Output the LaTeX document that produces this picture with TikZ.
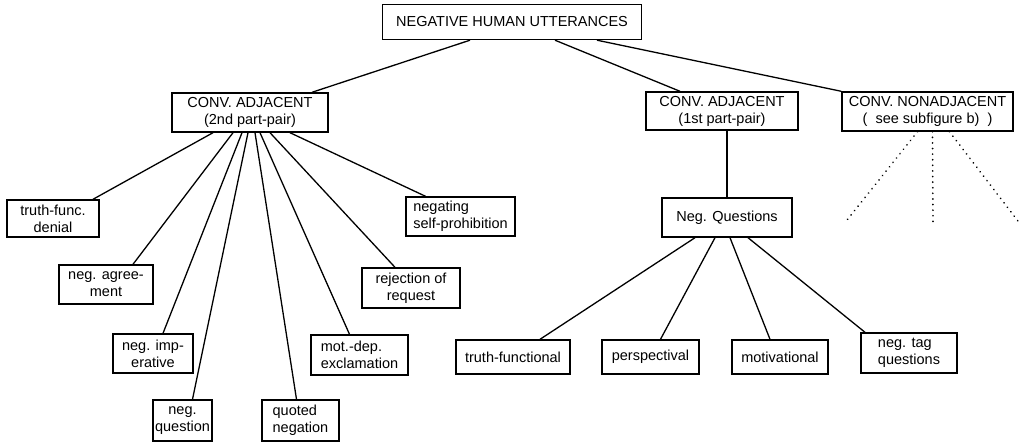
\documentclass[tikz,border=0pt]{standalone}
\usepackage{fontspec}
\setmainfont{Liberation Sans}
\usepackage{tikz}
\usetikzlibrary{calc}

\begin{document}
\begin{tikzpicture}[x=1pt, y=-1pt,
    box/.style={draw, line width=1.4pt, inner sep=2pt, align=center,
        font=\fontsize{14.5}{17}\selectfont},
    branch/.style={line width=1.3pt},
    subtree/.style={line width=1.8pt, line cap=round, dash pattern=on 0.1pt off 5.5pt}]
    \useasboundingbox (0,0) rectangle (1028,444);
    \node[box, minimum width=259pt, minimum height=35pt] (root) at (512,22) {NEGATIVE HUMAN UTTERANCES};
    \node[box, minimum width=156pt, minimum height=39pt] (adj2) at (250,112.5) {CONV. ADJACENT\\(2nd part-pair)};
    \node[box, minimum width=152pt, minimum height=38pt] (adj1) at (722,111) {CONV. ADJACENT\\(1st part-pair)};
    \node[box, minimum width=171pt, minimum height=39pt] (nonadj) at (927.5,111.5) {CONV. NONADJACENT\\(\ \ see subfigure b)\ \ )};

    \node[box, minimum width=92pt, minimum height=37pt] (tfdenial) at (53,218.5) {truth-func.\\denial};
    \node[box, minimum width=94pt, minimum height=39pt] (agree) at (106,284.5) {neg. agree-\\ment};
    \node[box, minimum width=80pt, minimum height=39pt] (imper) at (153,353.5) {neg. imp-\\erative};
    \node[box, minimum width=59pt, minimum height=41pt] (quest) at (182.5,420.5) {neg.\\question};
    \node[box, minimum width=77pt, minimum height=41pt, align=left] (quoted) at (300.5,420.5) {quoted\\negation};
    \node[box, minimum width=97pt, minimum height=40pt, align=left] (motdep) at (359.5,355) {mot.-dep.\\exclamation};
    \node[box, minimum width=98pt, minimum height=40pt] (reject) at (411,288) {rejection of\\request};
    \node[box, minimum width=109pt, minimum height=39pt, align=left] (selfprohib) at (460.5,216.5) {negating\\self-prohibition};

    \node[box, minimum width=130pt, minimum height=39pt] (negq) at (727,217.5) {Neg. Questions};
    \node[box, minimum width=114pt, minimum height=34pt] (truthf) at (513,357) {truth-functional};
    \node[box, minimum width=97pt, minimum height=34pt] (persp) at (650.5,357) {perspectival};
    \node[box, minimum width=96pt, minimum height=34pt] (motiv) at (780,357) {motivational};
    \node[box, minimum width=96pt, minimum height=40pt, align=left] (tagq) at (909,353) {neg. tag\\questions};

    \draw[branch] ([xshift=-42pt]root.south) -- ([xshift=62pt]adj2.north);
    \draw[branch] ([xshift=43pt]root.south) -- ([xshift=-42pt]adj1.north);
    \draw[branch] ([xshift=85pt]root.south) -- (nonadj.north west);

    \draw[branch] ([xshift=-37pt]adj2.south) -- ([xshift=40pt]tfdenial.north);
    \draw[branch] ([xshift=-17pt]adj2.south) -- ([xshift=27pt]agree.north);
    \draw[branch] ([xshift=-8pt]adj2.south) -- ([xshift=10pt]imper.north);
    \draw[branch] ([xshift=-2pt]adj2.south) -- ([xshift=10pt]quest.north);
    \draw[branch] ([xshift=5pt]adj2.south) -- ([xshift=-4pt]quoted.north);
    \draw[branch] ([xshift=10pt]adj2.south) -- ([xshift=-10pt]motdep.north);
    \draw[branch] ([xshift=20pt]adj2.south) -- ([xshift=-16pt]reject.north);
    \draw[branch] ([xshift=40pt]adj2.south) -- ([xshift=-35pt]selfprohib.north);

    \draw[branch] (negq.north |- adj1.south) -- (negq.north);
    \draw[branch] ([xshift=-32pt]negq.south) -- ([xshift=27pt]truthf.north);
    \draw[branch] ([xshift=-12pt]negq.south) -- ([xshift=10pt]persp.north);
    \draw[branch] ([xshift=3pt]negq.south) -- ([xshift=-10pt]motiv.north);
    \draw[branch] ([xshift=21pt]negq.south) -- ([xshift=-44pt]tagq.north);

    \coordinate (dotleft) at (847,220);
    \coordinate (dotmid) at (933,226);
    \coordinate (dotright) at (1021,225);
    \draw[subtree] ([xshift=-10pt]nonadj.south) -- (dotleft);
    \draw[subtree] ([xshift=5pt]nonadj.south) -- (dotmid);
    \draw[subtree] ([xshift=22pt]nonadj.south) -- (dotright);
\end{tikzpicture}
\end{document}
